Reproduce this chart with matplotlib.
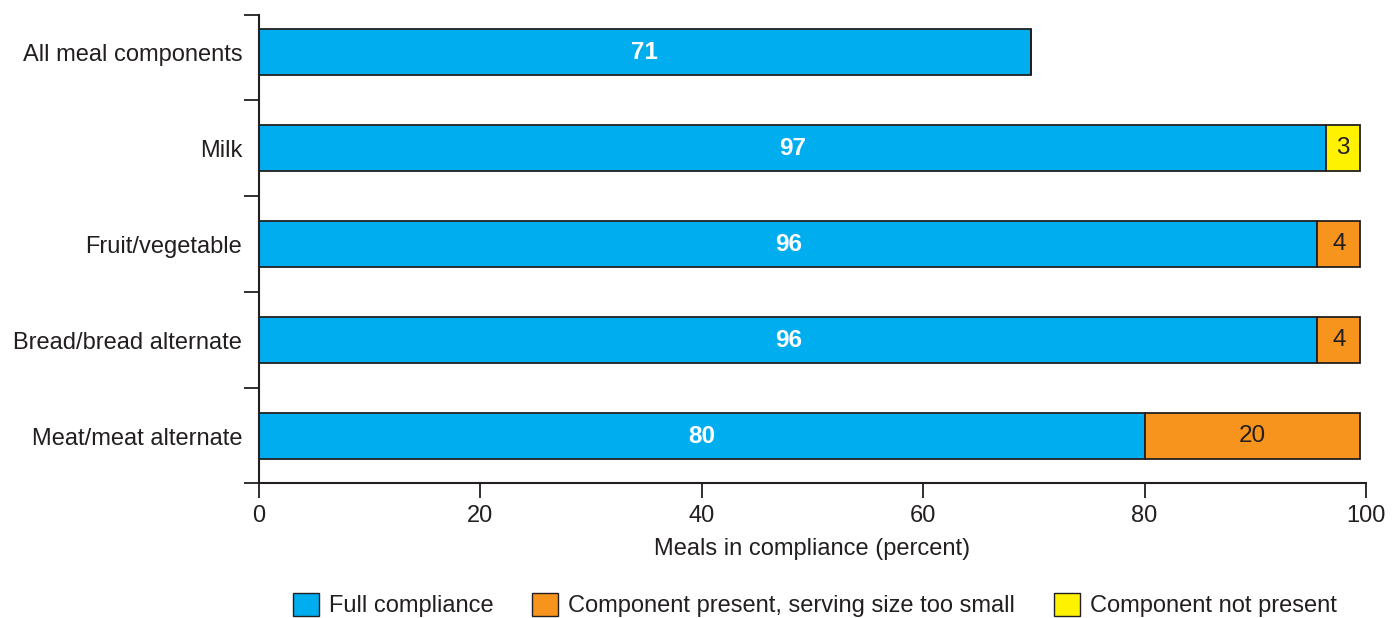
import matplotlib
matplotlib.use("Agg")
import matplotlib.pyplot as plt
from matplotlib.patches import Patch

plt.rcParams['font.family'] = ['Liberation Sans', 'DejaVu Sans']

categories = ["Meat/meat alternate", "Bread/bread alternate", "Fruit/vegetable",
              "Milk", "All meal components"]
full = [80, 95.6, 95.6, 96.4, 69.7]
too_small = [19.5, 3.9, 3.9, 0, 0]
not_present = [0, 0, 0, 3.1, 0]
full_labels = ["80", "96", "96", "97", "71"]
small_labels = ["20", "4", "4", "", ""]
notp_labels = ["", "", "", "3", ""]
series_names = ["Full compliance", "Component present, serving size too small",
                "Component not present"]
xticks = [0, 20, 40, 60, 80, 100]

c_blue = "#00AEEF"
c_orange = "#F7941D"
c_yellow = "#FFF200"
ink = "#231F20"

fig = plt.figure(figsize=(13.94, 6.18), dpi=100)
ax = fig.add_axes([259/1394, 1-483/618, (1366-259)/1394, (483-15)/618])

y = list(range(len(categories)))
h = 0.48
ax.barh(y, full, height=h, color=c_blue, edgecolor=ink, linewidth=1.3)
left2 = full
ax.barh(y, too_small, left=left2, height=h, color=c_orange, edgecolor=ink, linewidth=1.3)
left3 = [a + b for a, b in zip(full, too_small)]
for yi, w, l in zip(y, not_present, left3):
    if w > 0:
        ax.barh(yi, w, left=l, height=h, color=c_yellow, edgecolor=ink, linewidth=1.3)

for yi, f, lab in zip(y, full, full_labels):
    ax.text(f/2, yi, lab, ha='center', va='center', color='white',
            fontsize=17.5, fontweight='bold')
for yi, f, w, lab in zip(y, full, too_small, small_labels):
    if lab:
        ax.text(f + w/2, yi, lab, ha='center', va='center', color=ink, fontsize=17.5)
for yi, l, w, lab in zip(y, left3, not_present, notp_labels):
    if lab:
        ax.text(l + w/2, yi, lab, ha='center', va='center', color=ink, fontsize=17.5)

ylo, yhi = -0.49, 4.39
ax.set_xlim(0, 100)
ax.set_ylim(ylo, yhi)
ax.set_xticks(xticks)
ax.set_xticklabels([str(t) for t in xticks], fontsize=17, color=ink)
ax.set_yticks([ylo, 0.5, 1.5, 2.5, 3.5, yhi])
ax.set_yticklabels([])
ax.set_yticks(y, minor=True)
ax.set_yticklabels(categories, minor=True, fontsize=17, color=ink)
ax.tick_params(axis='y', which='minor', length=0, pad=12)
ax.tick_params(axis='y', which='major', length=11, width=1.3, color=ink)
ax.tick_params(axis='x', length=11, width=1.3, color=ink, pad=5)
for s in ['top', 'right']:
    ax.spines[s].set_visible(False)
for s in ['left', 'bottom']:
    ax.spines[s].set_color(ink)
    ax.spines[s].set_linewidth(1.5)
ax.set_xlabel("Meals in compliance (percent)", fontsize=17, color=ink, labelpad=8)

handles = [Patch(facecolor=c, edgecolor=ink, linewidth=1.0) for c in (c_blue, c_orange, c_yellow)]
fig.legend(handles, series_names, loc='center', bbox_to_anchor=(815/1394, 1-605/618),
           ncol=3, frameon=False, fontsize=17, handlelength=1.1, handleheight=1.15,
           handletextpad=0.42, columnspacing=1.65, labelcolor=ink)

fig.savefig("out.png", dpi=100)
